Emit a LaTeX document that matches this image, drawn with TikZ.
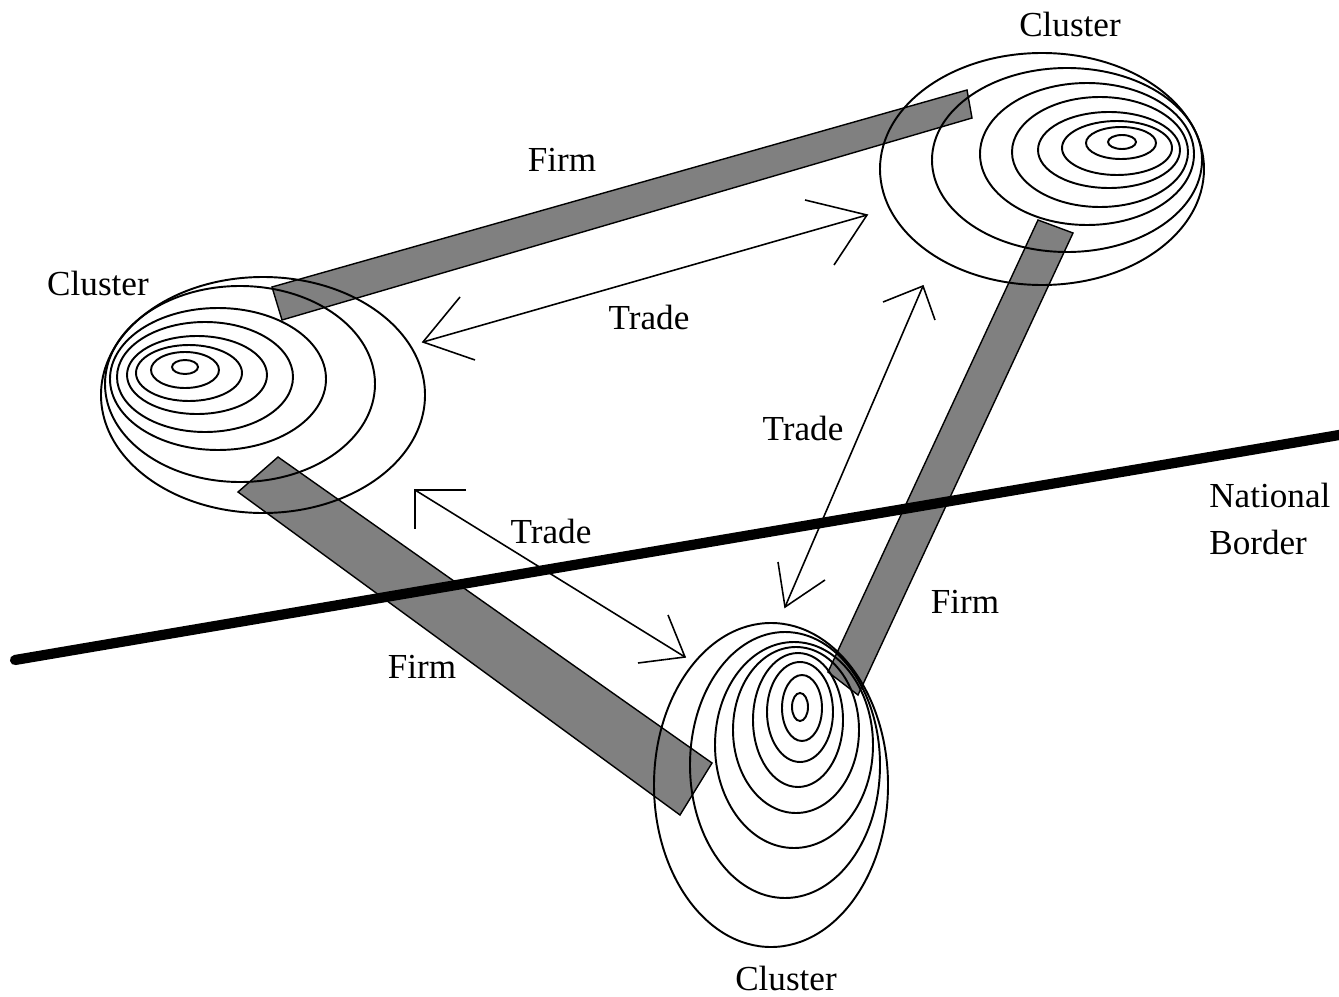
\documentclass[tikz,border=0pt]{standalone}
\usepackage{fontspec}
\setmainfont{Liberation Serif}
\definecolor{firmgray}{RGB}{128,128,128}
\begin{document}
\begin{tikzpicture}[x=0.02cm,y=-0.02cm,
  firmbar/.style={fill=firmgray,draw=black,line width=0.8pt},
  ring/.style={draw=black,line width=1.1pt},
  trade/.style={draw=black,line width=0.9pt},
  borderline/.style={draw=black,line width=5.8pt,line cap=round},
  lbl/.style={font=\fontsize{20}{24}\selectfont,inner sep=0pt,anchor=base}]
\useasboundingbox (0,0) rectangle (1339,997);
% Firm bars
\draw[firmbar] (272,287) -- (967,90) -- (972,118) -- (282,320) -- cycle;
\draw[firmbar] (238,492) -- (278,457) -- (712,763) -- (680,815) -- cycle;
\draw[firmbar] (1038,220) -- (1073,233) -- (858,695) -- (828,672) -- cycle;
% Clusters
\foreach \cx/\cy/\rx/\ry in {1042/169/162/116,1067/160/135/92,1087/154/107/71,1100/152/88/55,1109/150/71/38,1117/148/55/27,1121/143/35/16,1122/142/14/7}
  \draw[ring] (\cx,\cy) ellipse [x radius=\rx*0.02cm, y radius=\ry*0.02cm];
\foreach \cx/\cy/\rx/\ry in {263/395/162/118,240/384/135/98,218/379/108/71,205/377/88/55,197/375/70/39,189/373/53/28,185/370/34/18,185/367/13/7}
  \draw[ring] (\cx,\cy) ellipse [x radius=\rx*0.02cm, y radius=\ry*0.02cm];
\foreach \cx/\cy/\rx/\ry in {771/785/117/162,785/765/95/133,794/745/79/103,796/730/63/83,798/720/45/67,800/712/33/50,802/708/20/33,800/707/8/14}
  \draw[ring] (\cx,\cy) ellipse [x radius=\rx*0.02cm, y radius=\ry*0.02cm];
% Trade arrows
\coordinate (t1a) at (423,342); \coordinate (t1b) at (867,215);
\coordinate (t2a) at (923,286); \coordinate (t2b) at (785,607);
\coordinate (t3a) at (415,490); \coordinate (t3b) at (685,657);
\draw[trade] (t1a) -- (t1b);
\draw[trade] (460,297) -- (t1a) -- (475,360);
\draw[trade] (805,200) -- (t1b) -- (834,265);
\draw[trade] (t2a) -- (t2b);
\draw[trade] (883,302) -- (t2a) -- (935,320);
\draw[trade] (778,562) -- (t2b) -- (825,580);
\draw[trade] (t3a) -- (t3b);
\draw[trade] (466,490) -- (t3a) -- (415,529);
\draw[trade] (668,615) -- (t3b) -- (638,663);
% National border
\coordinate (nb1) at (15,660); \coordinate (nb2) at (1345,434);
\draw[borderline] (nb1) -- (nb2);
% Labels
\node[lbl] (cTR) at (1070,37) {Cluster};
\node[lbl] (cL) at (98,295) {Cluster};
\node[lbl] (cB) at (786,990) {Cluster};
\node[lbl] (f1) at (562,172) {Firm};
\node[lbl] (f2) at (422,678) {Firm};
\node[lbl] (f3) at (965,613) {Firm};
\node[lbl] (tr1) at (649,329) {Trade};
\node[lbl] (tr2) at (803,440) {Trade};
\node[lbl] (tr3) at (551,543) {Trade};
\node[lbl,anchor=base west] (nat) at (1209,507) {National};
\node[lbl,anchor=base west] (bord) at (1209,554) {Border};
\end{tikzpicture}
\end{document}
